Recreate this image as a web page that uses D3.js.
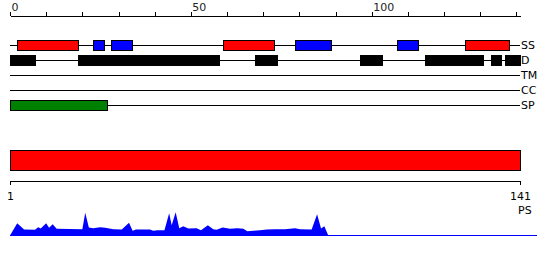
<!DOCTYPE html>
<html>
<head>
<meta charset="utf-8">
<script src="https://cdn.jsdelivr.net/npm/d3@7"></script>
<style>
  body { margin: 0; background: #fff; }
  text { font-family: "DejaVu Sans", sans-serif; font-size: 11px; fill: #000; }
</style>
</head>
<body>
<div id="chart"></div>
<script>
var seqLength = 141;
var tracks = ["SS", "D", "TM", "CC", "SP"];

// secondary structure: helix (red) and strand (blue)
var helix = [[2, 19], [59, 73], [126, 138]];
var strand = [[23, 26], [28, 34], [79, 89], [107, 113]];
// disorder
var disorder = [[0, 7], [19, 58], [68, 74], [97, 103], [115, 131], [133, 136], [137, 141]];
var transmem = [];
var coiled = [];
var signalPep = [[0, 27]];

// profile under the sequence bar: [position, value]
var profile = [
  [0, 0], [2, 12.3], [3.9, 6], [6.9, 5.7], [7.8, 8.3], [8.5, 7], [10, 12.3], [10.8, 7.7],
  [11.8, 11.3], [12.9, 6.7], [20, 6.3], [20.8, 22.7], [21.8, 8], [23, 7.3], [24.9, 8.3],
  [26.3, 7.7], [28.6, 6.3], [30.9, 6], [32.9, 12.7], [33.9, 4.7], [34.8, 6], [38.7, 6],
  [39.6, 4.7], [40.8, 5.3], [42.7, 5.3], [44, 22.3], [44.7, 10.3], [45.8, 23.3], [46.8, 7.3],
  [47.9, 9.3], [49.3, 7], [51.6, 7.3], [52.8, 5.3], [54.7, 10.3], [56.2, 6.3], [57.1, 5.7],
  [58.8, 8], [60.8, 6.7], [62.9, 7.3], [64.5, 6.7], [65.6, 4.3], [67.3, 4.7], [69.1, 5.3],
  [71, 6], [73.3, 6.3], [76, 6.3], [78.8, 7.3], [80.2, 6.3], [83.4, 6], [84.9, 21.3],
  [86, 7], [86.9, 9.3], [88, 0]
];

var width = 550, height = 260;
var svg = d3.select("#chart").append("svg")
  .attr("width", width)
  .attr("height", height);

var x = d3.scaleLinear().domain([0, seqLength]).range([10, 520]);
var xb = d3.scaleLinear().domain([1, seqLength]).range([10, 520]);
var rowY = d3.scalePoint().domain(tracks).range([45.5, 105.5]);
var yProf = d3.scaleLinear().domain([0, 25]).range([235.5, 210.5]);

// top ruler
var topAxis = d3.axisTop(x)
  .tickValues(d3.range(0, seqLength, 10))
  .tickFormat(function (d) { return d % 50 === 0 ? d : ""; })
  .tickSizeInner(4).tickSizeOuter(0).tickPadding(1);
var gTop = svg.append("g")
  .attr("transform", "translate(0,15.5)")
  .call(topAxis);
gTop.attr("font-family", null).attr("font-size", null);
gTop.selectAll("text").attr("text-anchor", "start").attr("dx", 1).style("fill", "#222");
gTop.selectAll("path, line").attr("shape-rendering", "crispEdges");

// track lines and labels
svg.selectAll(".track")
  .data(tracks)
  .enter().append("line")
  .attr("x1", x(0)).attr("x2", x(seqLength))
  .attr("y1", function (d) { return rowY(d); })
  .attr("y2", function (d) { return rowY(d); })
  .attr("stroke", "#000")
  .attr("shape-rendering", "crispEdges");

svg.selectAll(".trackLabel")
  .data(tracks)
  .enter().append("text")
  .attr("x", 521)
  .attr("y", function (d) { return rowY(d); })
  .attr("dy", "0.36em")
  .text(function (d) { return d; });

function drawBoxes(data, row, fill) {
  svg.selectAll(null)
    .data(data)
    .enter().append("rect")
    .attr("x", function (d) { return x(d[0]); })
    .attr("width", function (d) { return x(d[1]) - x(d[0]); })
    .attr("y", rowY(row) - 5)
    .attr("height", 10)
    .attr("fill", fill)
    .attr("stroke", "#000")
    .attr("shape-rendering", "crispEdges");
}
drawBoxes(helix, "SS", "#ff0000");
drawBoxes(strand, "SS", "#0000ff");
drawBoxes(disorder, "D", "#000");
drawBoxes(transmem, "TM", "#ff8c00");
drawBoxes(coiled, "CC", "#800080");
drawBoxes(signalPep, "SP", "#008000");

// sequence bar
svg.append("rect")
  .attr("x", x(0)).attr("width", x(seqLength) - x(0))
  .attr("y", 150.5).attr("height", 20)
  .attr("fill", "#ff0000").attr("stroke", "#000")
  .attr("shape-rendering", "crispEdges");

var botAxis = d3.axisBottom(xb)
  .tickValues([1, seqLength])
  .tickSizeInner(4).tickSizeOuter(0).tickPadding(8);
var gBot = svg.append("g")
  .attr("transform", "translate(0,180.5)")
  .call(botAxis);
gBot.attr("font-family", null).attr("font-size", null);
gBot.selectAll("path, line").attr("shape-rendering", "crispEdges");

svg.append("text")
  .attr("x", 518).attr("y", 214)
  .text("PS");

// profile
var area = d3.area()
  .x(function (d) { return x(d[0]); })
  .y0(yProf(0))
  .y1(function (d) { return yProf(d[1]); });
svg.append("path")
  .datum(profile)
  .attr("d", area)
  .attr("fill", "#0000ff");

svg.append("line")
  .attr("x1", 10).attr("x2", 537)
  .attr("y1", yProf(0)).attr("y2", yProf(0))
  .attr("stroke", "#0000ff")
  .attr("shape-rendering", "crispEdges");
</script>
</body>
</html>
